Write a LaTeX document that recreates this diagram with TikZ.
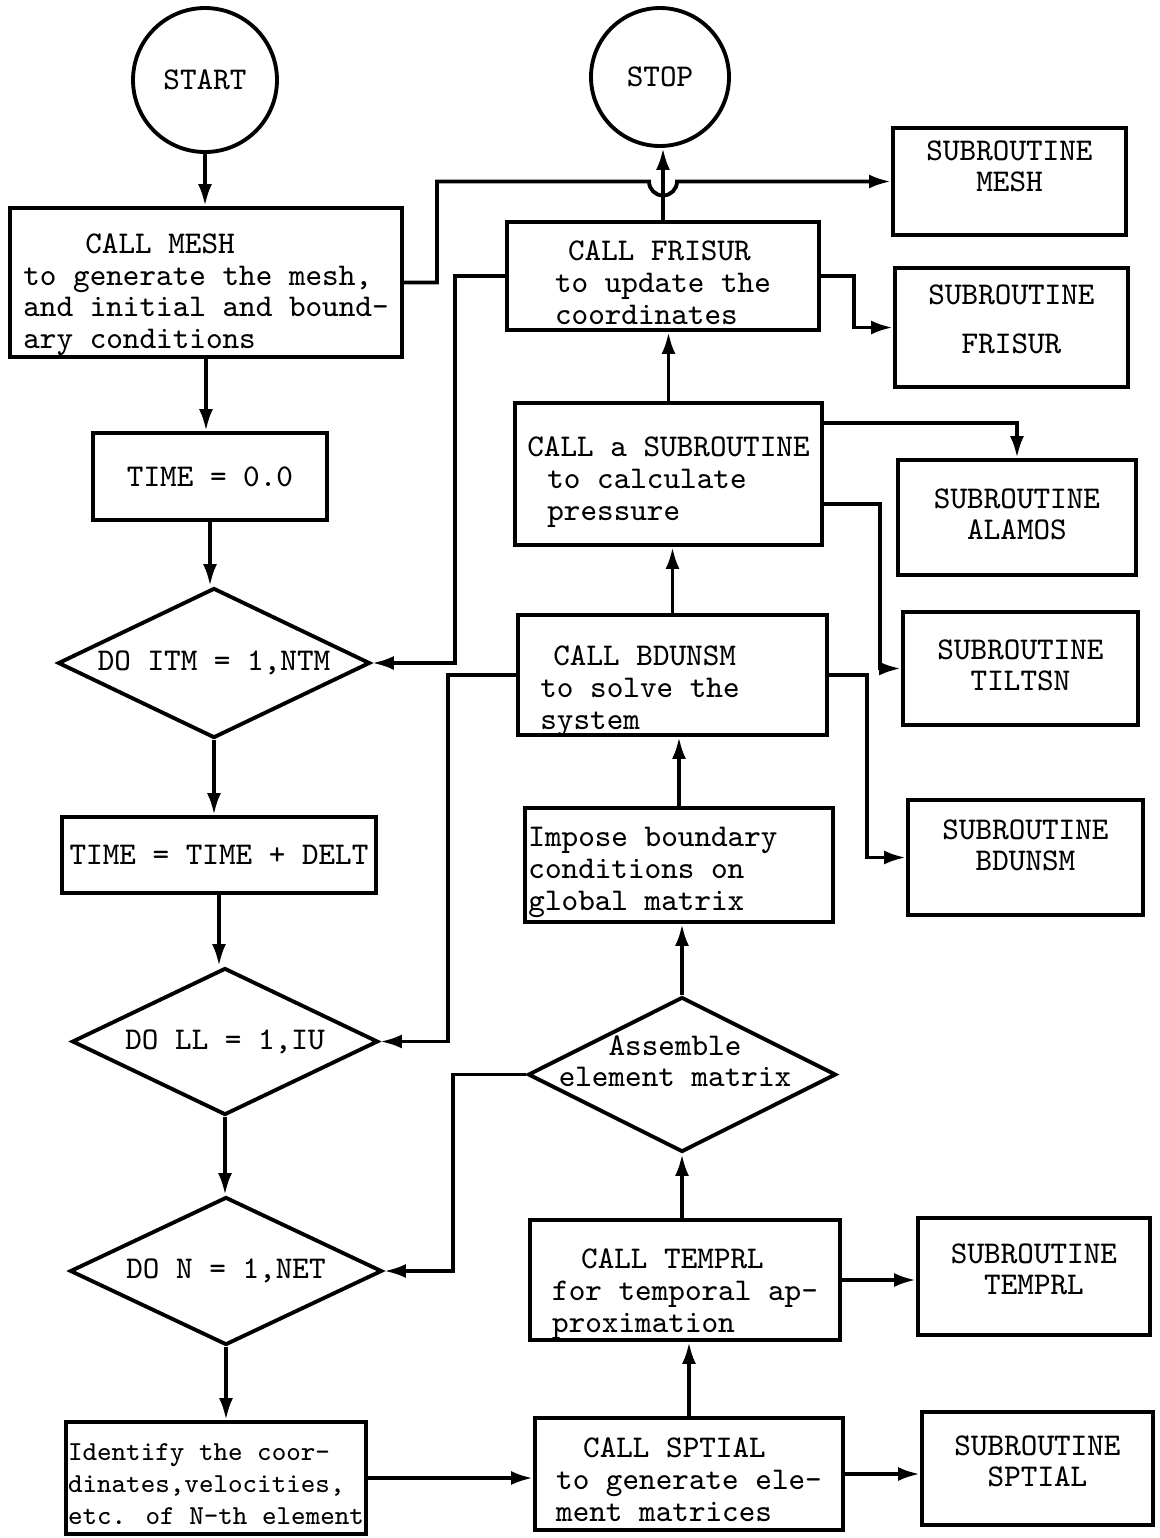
\documentclass[tikz,border=0pt]{standalone}
\usepackage{fontspec}
\usetikzlibrary{shapes.geometric,arrows.meta}
\newcommand{\boxtext}[3]{\raisebox{#2}[0pt][0pt]{\begin{tabular}{@{}#1@{}}#3\end{tabular}}}
\tikzset{
  tt/.style={font=\ttfamily\fontsize{9}{9.1}\selectfont},
  box/.style={tt, draw, line width=1.1pt, rectangle, inner xsep=1pt, inner ysep=1pt},
  dec/.style={tt, draw, line width=1.1pt, diamond, aspect=2, inner sep=0pt},
  term/.style={tt, draw, line width=1.1pt, circle, inner sep=0pt},
  flow/.style={line width=1.1pt, -{Latex[length=2.2mm,width=1.4mm]}},
}
\begin{document}
\begin{tikzpicture}
  \useasboundingbox (0,0) rectangle (11.59,-15.38);
  \node[term, minimum size=1.44cm] (start) at (2.05,-0.80) {START};
  \node[term, minimum size=1.38cm] (stop) at (6.60,-0.77) {STOP};
  \node[box, minimum width=3.92cm, minimum height=1.49cm] (mesh) at (2.06,-2.825)
    {\boxtext{l}{-0.20cm}{\hspace{0.62cm}CALL MESH\\to generate the mesh,\\and initial and bound-\\ary conditions}};
  \node[box, minimum width=2.34cm, minimum height=0.87cm] (time0) at (2.10,-4.765) {TIME = 0.0};
  \node[dec, minimum width=3.12cm, minimum height=1.50cm] (itm) at (2.14,-6.63) {\makebox[0pt]{DO ITM = 1,NTM}};
  \node[box, minimum width=3.14cm, minimum height=0.76cm] (delt) at (2.19,-8.55) {TIME = TIME + DELT};
  \node[dec, minimum width=3.06cm, minimum height=1.47cm] (ll) at (2.25,-10.415) {\makebox[0pt]{DO LL = 1,IU}};
  \node[dec, minimum width=3.12cm, minimum height=1.48cm] (ndo) at (2.26,-12.71) {\makebox[0pt]{DO N = 1,NET}};
  \node[box, font=\ttfamily\fontsize{7.8}{9.1}\selectfont, inner xsep=0.02cm, minimum width=2.92cm, minimum height=1.12cm] (ident) at (2.16,-14.78)
    {\boxtext{l}{-0.15cm}{Identify the coor-\\dinates,velocities,\\etc. of N-th element}};
  \node[box, minimum width=3.08cm, minimum height=1.12cm] (sptial) at (6.89,-14.74)
    {\boxtext{l}{-0.17cm}{\hspace{0.27cm}CALL SPTIAL\\to generate ele-\\ment matrices}};
  \node[box, minimum width=3.10cm, minimum height=1.20cm] (temprl) at (6.85,-12.80)
    {\boxtext{l}{-0.22cm}{\hspace{0.29cm}CALL TEMPRL\\for temporal ap-\\proximation}};
  \node[dec, minimum width=3.08cm, minimum height=1.55cm] (asm) at (6.82,-10.745)
    {\makebox[0pt]{\boxtext{c}{0.02cm}{Assemble\\element matrix}\kern0.14cm}};
  \node[box, minimum width=3.08cm, minimum height=1.14cm] (impose) at (6.79,-8.65)
    {\boxtext{l}{-0.15cm}{Impose boundary\rule{0.52cm}{0pt}\\conditions on\\global matrix}};
  \node[box, minimum width=3.09cm, minimum height=1.20cm] (bdunsm) at (6.725,-6.75)
    {\boxtext{l}{-0.24cm}{\hspace{0.13cm}CALL BDUNSM\\to solve the\rule{0.65cm}{0pt}\\system}};
  \node[box, minimum width=3.07cm, minimum height=1.42cm] (press) at (6.685,-4.74)
    {\boxtext{l}{-0.16cm}{CALL a SUBROUTINE\\\hspace{0.2cm}to calculate\\\hspace{0.2cm}pressure}};
  \node[box, minimum width=3.12cm, minimum height=1.08cm] (frisur) at (6.63,-2.76)
    {\boxtext{l}{-0.18cm}{\hspace{0.13cm}CALL FRISUR\\to update the\\coordinates}};
  \node[box, minimum width=2.33cm, minimum height=1.07cm] (smesh) at (10.095,-1.815) {\boxtext{c}{0.04cm}{SUBROUTINE\\MESH}};
  \node[box, minimum width=2.33cm, minimum height=1.19cm] (sfrisur) at (10.115,-3.275) {\boxtext{c}{-0.03cm}{SUBROUTINE\\[0.18cm]FRISUR}};
  \node[box, minimum width=2.38cm, minimum height=1.15cm] (salamos) at (10.17,-5.175) {\boxtext{c}{-0.08cm}{SUBROUTINE\\ALAMOS}};
  \node[box, minimum width=2.35cm, minimum height=1.13cm] (stiltsn) at (10.205,-6.685) {\boxtext{c}{-0.08cm}{SUBROUTINE\\TILTSN}};
  \node[box, minimum width=2.35cm, minimum height=1.15cm] (sbdunsm) at (10.255,-8.575) {\boxtext{c}{0.01cm}{SUBROUTINE\\BDUNSM}};
  \node[box, minimum width=2.32cm, minimum height=1.17cm] (stemprl) at (10.34,-12.765) {\boxtext{c}{-0.04cm}{SUBROUTINE\\TEMPRL}};
  \node[box, minimum width=2.31cm, minimum height=1.13cm] (ssptial) at (10.375,-14.685) {\boxtext{c}{-0.04cm}{SUBROUTINE\\SPTIAL}};
  \begin{scope}[flow]
    \draw (start.south) to (start.south |- mesh.north);
    \draw (mesh.south) to (mesh.south |- time0.north);
    \draw (time0.south) to (time0.south |- itm.north);
    \draw (itm.south) to (itm.south |- delt.north);
    \draw (delt.south) to (delt.south |- ll.north);
    \draw (ll.south) to (ll.south |- ndo.north);
    \draw (ndo.south) to (ndo.south |- ident.north);
    \draw (ident.east) to (ident.east -| sptial.west);
    \draw (sptial.north) to (sptial.north |- temprl.south);
    \draw (sptial.east) to (sptial.east -| ssptial.west);
    \draw (temprl.north -| asm.south) to (asm.south);
    \draw (temprl.east) to (temprl.east -| stemprl.west);
    \draw (asm.north) to (asm.north |- impose.south);
    \draw (asm.west) -- ++(-0.73,0) |- (ndo.east);
    \draw (impose.north) to (impose.north |- bdunsm.south);
    \draw (bdunsm.north) to (bdunsm.north |- press.south);
    \draw (bdunsm.east) -- ++(0.38,0) |- (sbdunsm.west);
    \draw (bdunsm.west) -- ++(-0.68,0) |- (ll.east);
    \draw (press.north) to (press.north |- frisur.south);
    \draw ([yshift=-0.22cm]press.north east) -| (salamos.north);
    \draw ([yshift=0.43cm]press.south east) -- ++(0.56,0) |- (stiltsn.west);
    \draw (frisur.north) to (frisur.north |- stop.south);
    \draw (frisur.east) -- ++(0.33,0) |- (sfrisur.west);
    \draw (frisur.west) -- ++(-0.5,0) |- (itm.east);
    \draw (mesh.east) -- ++(0.33,0) |- ([xshift=-0.14cm]frisur.north |- smesh.west)
      arc[start angle=180, end angle=360, radius=0.14cm] -- (smesh.west);
  \end{scope}
\end{tikzpicture}
\end{document}
